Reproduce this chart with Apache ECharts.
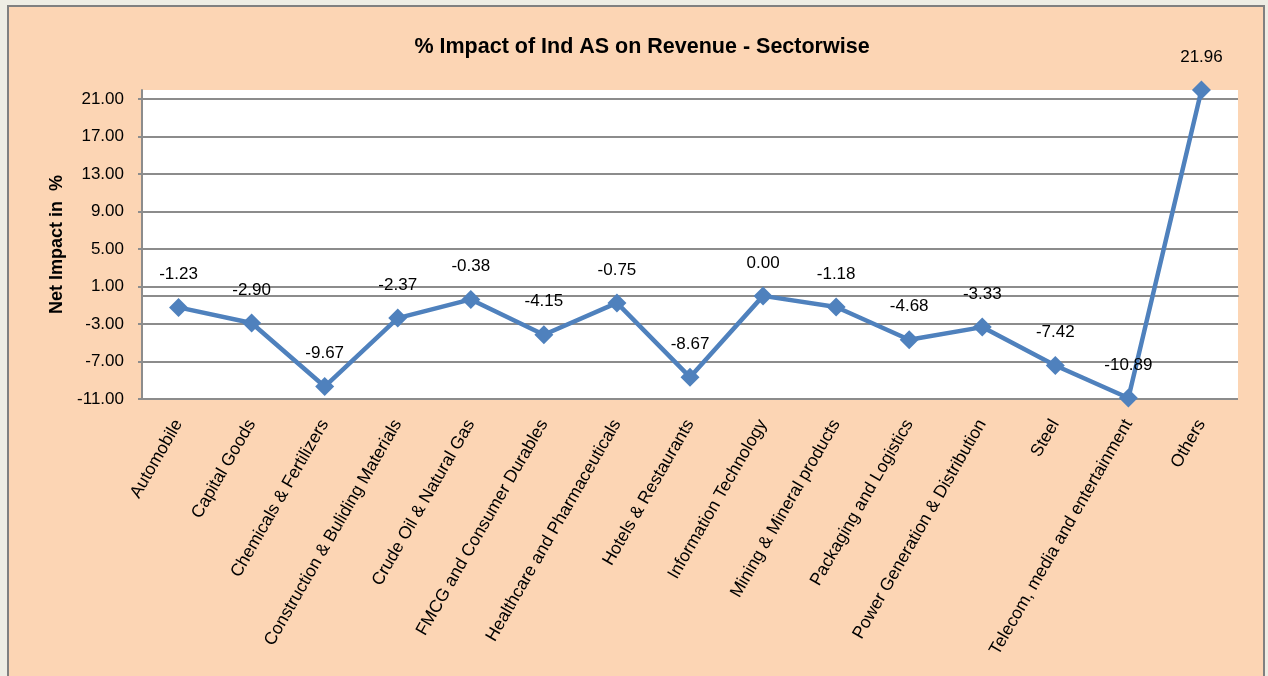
<!DOCTYPE html>
<html>
<head>
<meta charset="utf-8">
<script src="https://cdn.jsdelivr.net/npm/echarts@6/dist/echarts.min.js"></script>
<style>
    html, body {margin: 0; padding: 0; background: #EEEDE4;}
    #chart {width: 1268px; height: 676px;}
</style>
</head>
<body>
<div id="chart"></div>
<script>
    var sectors = ['Automobile', 'Capital Goods', 'Chemicals & Fertilizers', 'Construction & Buliding Materials',
        'Crude Oil & Natural Gas', 'FMCG and Consumer Durables', 'Healthcare and Pharmaceuticals',
        'Hotels & Restaurants', 'Information Technology', 'Mining & Mineral products',
        'Packaging and Logistics', 'Power Generation & Distribution', 'Steel',
        'Telecom, media and entertainment', 'Others']
    var netImpact = [-1.23, -2.90, -9.67, -2.37, -0.38, -4.15, -0.75, -8.67, 0.00, -1.18, -4.68, -3.33, -7.42, -10.89, 21.96]
    var yMin = -11
    var yMax = 21.96
    var yStep = 4

    var font = '"Liberation Sans", Arial, sans-serif'
    var gray = '#8C8C8C'

    var myChart = echarts.init(document.getElementById('chart'))
    myChart.setOption({
        animation: false,
        backgroundColor: '#EEEDE4',
        graphic: [{
            type: 'rect',
            z: -10,
            shape: {x: 8, y: 6, width: 1256, height: 690},
            style: {fill: '#FCD5B4', stroke: '#808080', lineWidth: 2}
        }],
        title: {
            text: '% Impact of Ind AS on Revenue - Sectorwise',
            left: 637,
            textAlign: 'center',
            top: 31,
            textStyle: {fontFamily: font, fontSize: 21.5, fontWeight: 'bold', color: '#000'}
        },
        grid: {
            left: 142,
            right: 30,
            top: 90,
            bottom: 277,
            show: true,
            backgroundColor: '#fff',
            borderWidth: 0
        },
        xAxis: {
            type: 'category',
            data: sectors,
            boundaryGap: true,
            axisLine: {lineStyle: {color: gray, width: 2}},
            axisTick: {show: false},
            axisLabel: {
                rotate: 60,
                interval: 0,
                margin: 22,
                fontFamily: font,
                fontSize: 17.5,
                color: '#000'
            }
        },
        yAxis: {
            type: 'value',
            min: yMin,
            max: yMax,
            interval: yStep,
            name: 'Net Impact in  %',
            nameLocation: 'middle',
            nameRotate: 90,
            nameGap: 76,
            nameTextStyle: {fontFamily: font, fontSize: 18, fontWeight: 'bold', color: '#000'},
            axisLine: {show: true, lineStyle: {color: gray, width: 2}},
            axisTick: {show: true, length: 4, lineStyle: {color: gray, width: 2}},
            axisLabel: {
                showMaxLabel: false,
                margin: 18,
                fontFamily: font,
                fontSize: 17,
                color: '#000',
                formatter: function (v) { return v.toFixed(2) }
            },
            splitLine: {show: true, showMaxLine: false, lineStyle: {color: gray, width: 2}}
        },
        series: [{
            type: 'line',
            data: netImpact,
            symbol: 'diamond',
            symbolSize: 19,
            lineStyle: {color: '#4F81BD', width: 4.5},
            itemStyle: {color: '#4F81BD'},
            label: {
                show: true,
                position: 'top',
                distance: 15,
                fontFamily: font,
                fontSize: 17,
                color: '#000',
                formatter: function (p) { return p.value.toFixed(2) }
            },
            markLine: {
                silent: true,
                symbol: 'none',
                label: {show: false},
                lineStyle: {color: gray, width: 2, type: 'solid'},
                data: [{yAxis: 0}],
                z: 1
            },
            z: 5
        }]
    })
</script>
</body>
</html>
